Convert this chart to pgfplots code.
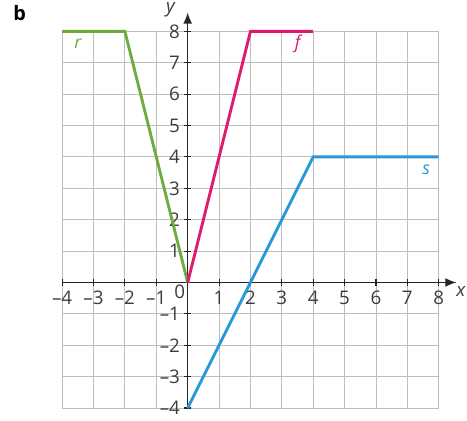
\documentclass[border=0pt]{standalone}
\usepackage{pgfplots}
\pgfplotsset{compat=1.18}
\usepackage{fontspec}
\setmainfont{Open Sans}
\usetikzlibrary{arrows.meta}

\definecolor{rgreen}{RGB}{108,171,60}
\definecolor{fpink}{RGB}{226,24,110}
\definecolor{sblue}{RGB}{42,152,214}
\definecolor{gridgray}{RGB}{190,190,190}
\definecolor{labgray}{RGB}{60,60,60}

\begin{document}
\begin{tikzpicture}
\begin{axis}[
    anchor=origin, at={(0,0)},
    x=0.5cm, y=0.5cm,
    xmin=-4, xmax=8, ymin=-4, ymax=8,
    axis lines=middle,
    axis line style={line width=0.6pt, black!85},
    x axis line style={-{Latex[length=5pt,width=4pt]}, shorten >=-0.28cm},
    y axis line style={-{Latex[length=5pt,width=4pt]}, shorten >=-0.3cm},
    grid=major,
    major grid style={gridgray, line width=0.4pt},
    xtick={-4,...,8}, ytick={-4,...,8},
    xticklabels={–4,–3,–2,–1,,1,2,3,4,5,6,7,8},
    yticklabels={–4,–3,–2,–1,,1,2,3,4,5,6,7,8},
    tick style={black!85, line width=0.5pt},
    major tick length=3pt,
    tick align=center,
    ticklabel style={font=\fontsize{8.5}{10}\selectfont, text=labgray},
    xticklabel style={yshift=1pt},
    yticklabel style={xshift=1.5pt},
    clip=false,
]
\addplot[rgreen, line width=1.3pt] coordinates {(-4,8) (-2,8) (0,0)};
\addplot[fpink, line width=1.3pt] coordinates {(0,0) (2,8) (4,8)};
\addplot[sblue, line width=1.3pt] coordinates {(0,-4) (4,4) (8,4)};

\node[text=rgreen, font=\fontsize{8}{9}\selectfont\itshape] at (axis cs:-3.5,7.6) {r};
\node[text=fpink, font=\fontsize{8}{9}\selectfont\itshape] at (axis cs:3.5,7.6) {f};
\node[text=sblue, font=\fontsize{8}{9}\selectfont\itshape] at (axis cs:7.6,3.6) {s};

\node[text=labgray, font=\fontsize{8.5}{10}\selectfont] at (axis cs:-0.25,-0.3) {0};
\node[text=labgray, font=\fontsize{8.5}{10}\selectfont\itshape] at (axis cs:-0.55,8.7) {y};
\node[text=labgray, font=\fontsize{8.5}{10}\selectfont\itshape, anchor=east, inner sep=0.5pt] at (axis cs:8.9,-0.3) {x};
\node[font=\fontsize{9}{10}\selectfont\bfseries] at (axis cs:-5.35,8.58) {b};
\end{axis}
\pgfresetboundingbox
\useasboundingbox (-2.99,-2.2) rectangle (4.45,4.5);
\end{tikzpicture}
\end{document}
